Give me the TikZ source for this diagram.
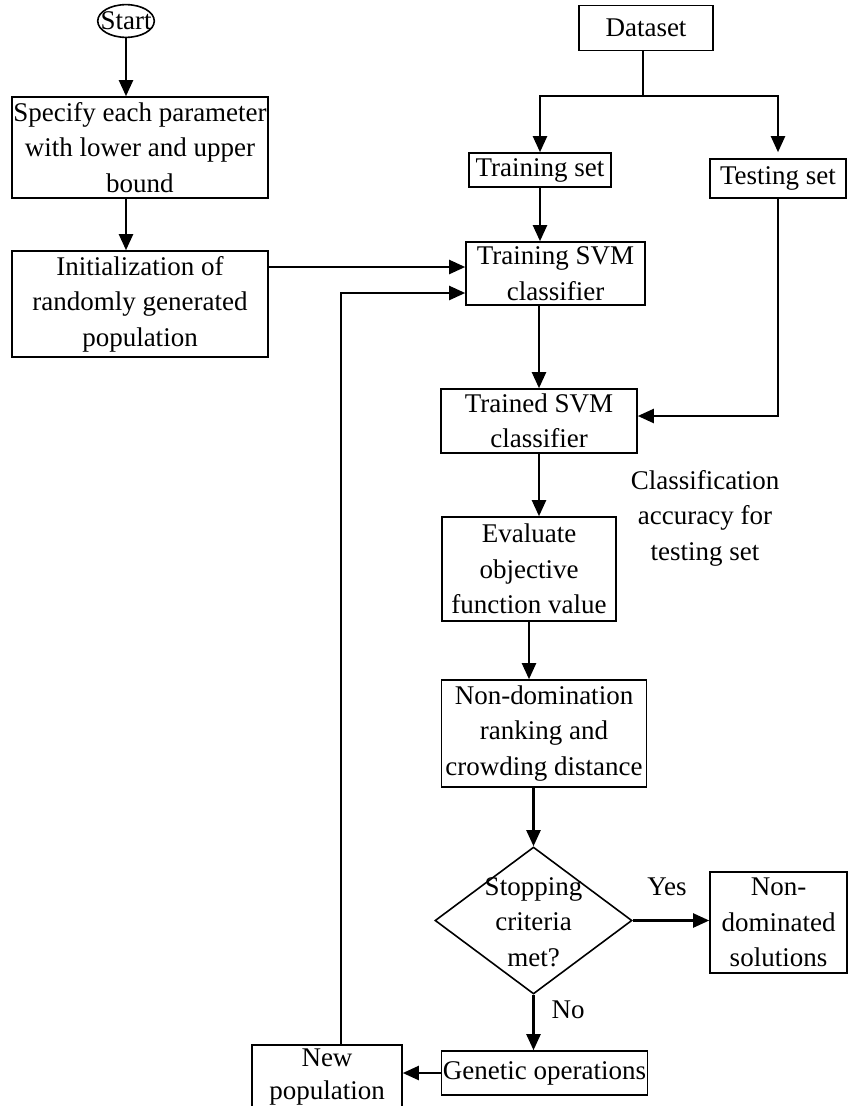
\documentclass[tikz,border=0pt]{standalone}
\usepackage{fontspec}
\setmainfont{Liberation Serif}
\usetikzlibrary{arrows.meta,shapes.geometric}

\begin{document}
\begin{tikzpicture}[x=1pt,y=-1pt,
  font=\fontsize{27}{35.5}\selectfont,
  box/.style={draw,line width=1.6pt,align=center,inner sep=0pt},
  dia/.style={diamond,draw,line width=1.6pt,inner sep=0pt},
  arr/.style={line width=2.2pt,-{Triangle[length=16pt,width=14pt]}},
  conn/.style={line width=2.2pt}]

\useasboundingbox (0,0) rectangle (847,1106);

\node [ellipse,draw,line width=1.6pt,inner xsep=-5.5pt,inner ysep=2.5pt] (start) at (126,21) {Start};
\node [box,minimum width=256,minimum height=101] (spec) at (140,147.5) {Specify each parameter\\with lower and upper\\bound};
\node [box,minimum width=256,minimum height=106] (init) at (140,304) {Initialization of\\randomly generated\\population};

\node [box,minimum width=134,minimum height=45] (dataset) at (646,28) {Dataset};
\node [box,minimum width=142,minimum height=34] (trainset) at (540,170) {Training set};
\node [box,minimum width=136,minimum height=39] (testset) at (778,178.5) {Testing set};
\node [box,minimum width=179,minimum height=63] (svm) at (555.5,273.5) {Training SVM\\classifier};
\node [box,minimum width=196,minimum height=64] (trained) at (539,421) {Trained SVM\\classifier};
\node [align=center] (acc) at (705,518) {Classification\\accuracy for\\testing set};
\node [box,minimum width=174,minimum height=104] (eval) at (529,569) {Evaluate\\objective\\function value};
\node [box,minimum width=205,minimum height=107] (nondom) at (544,733.5) {Non-domination\\ranking and\\crowding distance};
\node [dia,minimum width=197,minimum height=147] (dec) at (533.5,920.5) {};
\node [align=center] (dectxt) at (533.5,922) {Stopping\\criteria\\met?};
\node [box,minimum width=137,minimum height=101] (sol) at (778.5,922.5) {Non-\\dominated\\solutions};
\node [box,minimum width=206,minimum height=44] (gen) at (544.5,1073) {Genetic operations};
\node [box,minimum width=150,minimum height=64,font=\fontsize{27}{33}\selectfont] (newpop) at (327,1077) {New\\population};

\node (yes) at (667,887) {Yes};
\node (no) at (568,1010) {No};

\coordinate (split) at (643,96);
\coordinate (svmA) at ([yshift=6.5pt]svm.west);
\coordinate (svmB) at ([yshift=-19.5pt]svm.west);

\draw [arr] (start.south) -- (start.south |- spec.north);
\draw [arr] (spec.south -| start) -- (init.north -| start);
\draw [arr] (init.east |- svmA) -- (svmA);
\draw [arr] ([xshift=14pt]newpop.north) |- (svmB);

\draw [conn] (split |- dataset.south) -- (split);
\draw [arr] (split) -| (trainset.north);
\draw [arr,shorten >=6pt] (split) -| (testset.north);
\draw [arr] (trainset.south) -- (trainset.south |- svm.north);
\draw [arr] (trained.north |- svm.south) -- (trained.north);
\draw [arr] (testset.south) |- ([yshift=5pt]trained.east);
\draw [arr] (trained.south) -- (trained.south |- eval.north);
\draw [arr] (eval.south) -- (eval.south |- nondom.north);
\draw [arr] (nondom.south -| dec) -- (dec.north);
\draw [arr] (dec.east) -- (dec.east -| sol.west);
\draw [arr] (dec.south) -- (dec.south |- gen.north);
\draw [arr] (gen.west) -- (gen.west -| newpop.east);

\end{tikzpicture}
\end{document}
